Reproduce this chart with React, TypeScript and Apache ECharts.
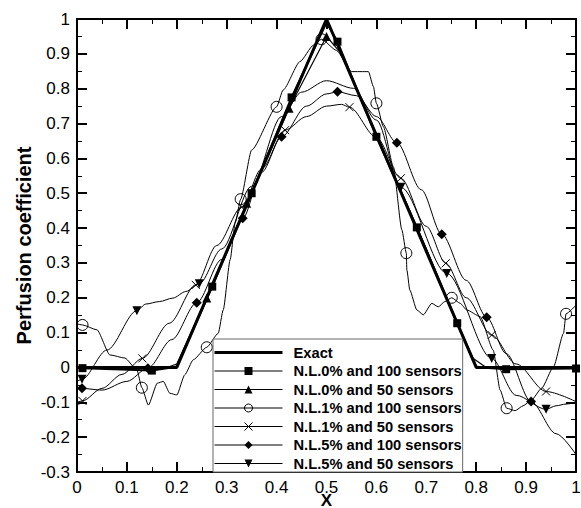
import React, { useEffect, useRef } from "react";
import * as echarts from "echarts";

// ---------- data ----------
const seriesNames = [
  "Exact",
  "N.L.0% and 100 sensors",
  "N.L.0% and 50 sensors",
  "N.L.1% and 100 sensors",
  "N.L.1% and 50 sensors",
  "N.L.5% and 100 sensors",
  "N.L.5% and 50 sensors",
];

const exactLine = [[0, 0], [0.2, 0], [0.5, 1], [0.8, 0], [1, 0]];

const nl0s100Line = [[0, 0], [0.19, 0], [0.2, 0.003], [0.5, 0.99], [0.8, 0.003], [0.81, 0]];
const nl0s100Marks = [
  [0.011, -0.002], [0.15, -0.009], [0.271, 0.232], [0.35, 0.5], [0.43, 0.775],
  [0.522, 0.935], [0.6, 0.662], [0.681, 0.402], [0.762, 0.127], [0.86, -0.005], [1.0, -0.003],
];

const nl0s50Line = [
  [0, 0], [0.18, 0], [0.2, 0.01], [0.53, 0.9], [0.6, 0.67], [0.7, 0.34], [0.79, 0.03], [0.82, 0], [1, 0],
];
const nl0s50Marks = [[0.26, 0.199], [0.34, 0.471], [0.425, 0.744], [0.5, 0.95]];

const nl1s100Line = [
  [0, 0.125], [0.04, 0.108], [0.066, 0.036], [0.096, 0.027], [0.12, -0.007], [0.143, -0.108],
  [0.161, -0.045], [0.173, -0.04], [0.186, -0.074], [0.2, -0.079], [0.216, -0.021], [0.233, 0.022],
  [0.283, 0.098], [0.293, 0.165], [0.307, 0.31], [0.317, 0.415], [0.35, 0.624], [0.413, 0.796],
  [0.447, 0.878], [0.474, 0.925], [0.52, 0.91], [0.55, 0.849], [0.584, 0.849], [0.594, 0.806],
  [0.614, 0.691], [0.634, 0.576], [0.651, 0.395], [0.661, 0.28], [0.667, 0.222], [0.681, 0.165],
  [0.694, 0.151], [0.711, 0.184], [0.724, 0.174], [0.737, 0.189], [0.768, 0.184], [0.781, 0.165],
  [0.808, 0.146], [0.834, 0.05], [0.848, -0.065], [0.878, -0.124], [0.894, -0.11], [0.911, -0.093],
  [0.931, -0.06], [0.955, 0.002], [0.975, 0.098], [1.0, 0.179],
];
const nl1s100Marks = [
  [0.011, 0.122], [0.13, -0.058], [0.26, 0.058], [0.328, 0.483], [0.4, 0.748], [0.49, 0.942],
  [0.6, 0.758], [0.66, 0.328], [0.751, 0.2], [0.861, -0.117], [0.98, 0.154],
];

const nl1s50Line = [
  [0, -0.1], [0.05, -0.06], [0.09, -0.02], [0.185, 0.127], [0.28, 0.35], [0.37, 0.57], [0.46, 0.72],
  [0.5, 0.75], [0.53, 0.755], [0.6, 0.66], [0.7, 0.405], [0.78, 0.2], [0.88, 0.01], [1.0, -0.098],
];
const nl1s50Marks = [
  [0.011, -0.096], [0.131, 0.026], [0.238, 0.237], [0.33, 0.46], [0.417, 0.681], [0.546, 0.747],
  [0.649, 0.543], [0.739, 0.299], [0.831, 0.093], [0.94, -0.069],
];

const nl5s100Line = [
  [0, -0.062], [0.05, -0.065], [0.1, -0.04], [0.19, 0.08], [0.29, 0.31], [0.37, 0.56], [0.46, 0.75],
  [0.5, 0.785], [0.56, 0.78], [0.6, 0.72], [0.69, 0.51], [0.78, 0.25], [0.86, 0.04], [0.96, -0.19], [1.0, -0.25],
];
const nl5s100Marks = [
  [0.01, -0.06], [0.142, -0.002], [0.24, 0.186], [0.332, 0.428], [0.41, 0.662], [0.522, 0.791],
  [0.641, 0.645], [0.731, 0.382], [0.821, 0.144], [0.91, -0.098],
];

const nl5s50Line = [
  [0, -0.04], [0.06, 0.05], [0.138, 0.182], [0.165, 0.189], [0.192, 0.199], [0.218, 0.218],
  [0.29, 0.34], [0.35, 0.52], [0.41, 0.72], [0.45, 0.79], [0.5, 0.823], [0.554, 0.801], [0.6, 0.71],
  [0.88, -0.08], [0.96, -0.11], [0.98, -0.105], [1.0, -0.1],
];
const nl5s50Marks = [
  [0.01, -0.034], [0.12, 0.163], [0.245, 0.24], [0.649, 0.517], [0.741, 0.27], [0.831, 0.026], [0.94, -0.12],
];

const xTicks = { min: 0, max: 1, interval: 0.1 };
const yTicks = { min: -0.3, max: 1, interval: 0.1 };

// ---------- helpers ----------
const FONT = "'Liberation Sans', Arial, Helvetica, sans-serif";
const CROSS = "path://M0,0L10,10M10,0L0,10";
const TRI_DOWN = "path://M0,0L10,0L5,9Z";

function build(line: number[][], marks: number[][]) {
  const items: any[] = [
    ...line.map((p) => ({ value: p, symbol: "none" })),
    ...marks.map((p) => ({ value: p })),
  ];
  items.sort((a, b) => a.value[0] - b.value[0]);
  return items;
}

const fmt = (v: number) => String(Math.round(v * 10) / 10);

export default function App() {
  const ref = useRef<HTMLDivElement>(null);
  useEffect(() => {
    const chart = echarts.init(ref.current!, null, { renderer: "svg" });

    const axisCommon = {
      type: "value",
      splitLine: { show: false },
      axisLine: { show: true, onZero: false, lineStyle: { color: "#000", width: 2 } },
      axisTick: { show: true, inside: true, length: 10, lineStyle: { color: "#000", width: 2 } },
      minorTick: { show: true, splitNumber: 2, length: 5, lineStyle: { color: "#000", width: 1 } },
      minorSplitLine: { show: false },
    };
    const labelStyle = {
      fontSize: 17, lineHeight: 15, color: "#000", fontFamily: FONT, formatter: fmt,
      showMinLabel: true, showMaxLabel: true,
    };

    const black = "#000";
    const filled = (symbol: string, size: number) => ({
      symbol,
      symbolSize: size,
      itemStyle: { color: black, borderWidth: 0 },
    });
    const hollow = (symbol: string, size: number) => ({
      symbol,
      symbolSize: size,
      itemStyle: { color: "rgba(0,0,0,0)", borderColor: black, borderWidth: 1 },
    });
    const lineSeries = (name: string, data: any[], width: number, smooth: number | boolean, sym: any) => ({
      type: "line",
      name,
      data,
      smooth,
      smoothMonotone: "x",
      lineStyle: { color: black, width },
      showSymbol: true,
      xAxisIndex: 0,
      yAxisIndex: 0,
      ...sym,
    });

    const legendItem = (name: string, lineW: number, hollowIcon: boolean, hideIcon = false) => ({
      name,
      lineStyle: { color: black, width: lineW },
      itemStyle: hideIcon
        ? { color: "rgba(0,0,0,0)", borderWidth: 0 }
        : hollowIcon
        ? { color: "rgba(0,0,0,0)", borderColor: black, borderWidth: 1 }
        : { color: black, borderWidth: 0 },
    });

    chart.setOption({
      animation: false,
      backgroundColor: "#fff",
      grid: { left: 77, right: 5, top: 19, bottom: 36, containLabel: false, outerBoundsMode: "none" },
      xAxis: [
        {
          ...axisCommon,
          ...xTicks,
          position: "bottom",
          axisLabel: { ...labelStyle, margin: 8 },
          name: "X",
          nameLocation: "middle",
          nameGap: 22,
          nameMoveOverlap: false,
          nameTextStyle: { fontSize: 17, lineHeight: 13, fontWeight: "bold", color: "#000", fontFamily: FONT },
        },
        { ...axisCommon, ...xTicks, position: "top", axisLabel: { show: false } },
      ],
      yAxis: [
        {
          ...axisCommon,
          ...yTicks,
          position: "left",
          axisLabel: { ...labelStyle, margin: 7 },
          name: "Perfusion coefficient",
          nameLocation: "middle",
          nameGap: 43,
          nameMoveOverlap: false,
          nameTextStyle: { fontSize: 20, fontWeight: "bold", color: "#000", fontFamily: FONT },
        },
        { ...axisCommon, ...yTicks, position: "right", axisLabel: { show: false } },
      ],
      legend: {
        show: true,
        orient: "vertical",
        left: 213,
        top: 339,
        padding: [6, 1, 1, 0],
        itemWidth: 68,
        itemHeight: 10,
        itemGap: 3.5,
        backgroundColor: "#fff",
        borderColor: "#666",
        borderWidth: 1,
        selectedMode: false,
        textStyle: {
          fontSize: 14.7,
          fontWeight: "bold",
          color: "#000",
          fontFamily: FONT,
          lineHeight: 14,
          padding: [0, 0, 0, 6],
        },
        data: [
          legendItem(seriesNames[0], 3, false, true),
          legendItem(seriesNames[1], 1, false),
          legendItem(seriesNames[2], 1, false),
          legendItem(seriesNames[3], 1, true),
          legendItem(seriesNames[4], 1, true),
          legendItem(seriesNames[5], 1, false),
          legendItem(seriesNames[6], 1, false),
        ],
      },
      series: [
        lineSeries(seriesNames[0], exactLine, 3, false, {
          symbol: "none",
          itemStyle: { color: "rgba(0,0,0,0)", borderWidth: 0 },
        }),
        lineSeries(seriesNames[1], build(nl0s100Line, nl0s100Marks), 2, false, filled("rect", 8)),
        lineSeries(seriesNames[2], build(nl0s50Line, nl0s50Marks), 1.2, false, filled("triangle", 9)),
        lineSeries(seriesNames[3], build(nl1s100Line, nl1s100Marks), 1, 0.2, hollow("circle", 11)),
        lineSeries(seriesNames[4], build(nl1s50Line, nl1s50Marks), 1, 0.3, hollow(CROSS, 8)),
        lineSeries(seriesNames[5], build(nl5s100Line, nl5s100Marks), 1, 0.3, filled("diamond", 10)),
        lineSeries(seriesNames[6], build(nl5s50Line, nl5s50Marks), 1, 0.3, filled(TRI_DOWN, 9)),
      ],
    });
    return () => chart.dispose();
  }, []);
  return <div ref={ref} style={{ position: "fixed", left: 0, top: 0, width: 581, height: 508 }} />;
}
